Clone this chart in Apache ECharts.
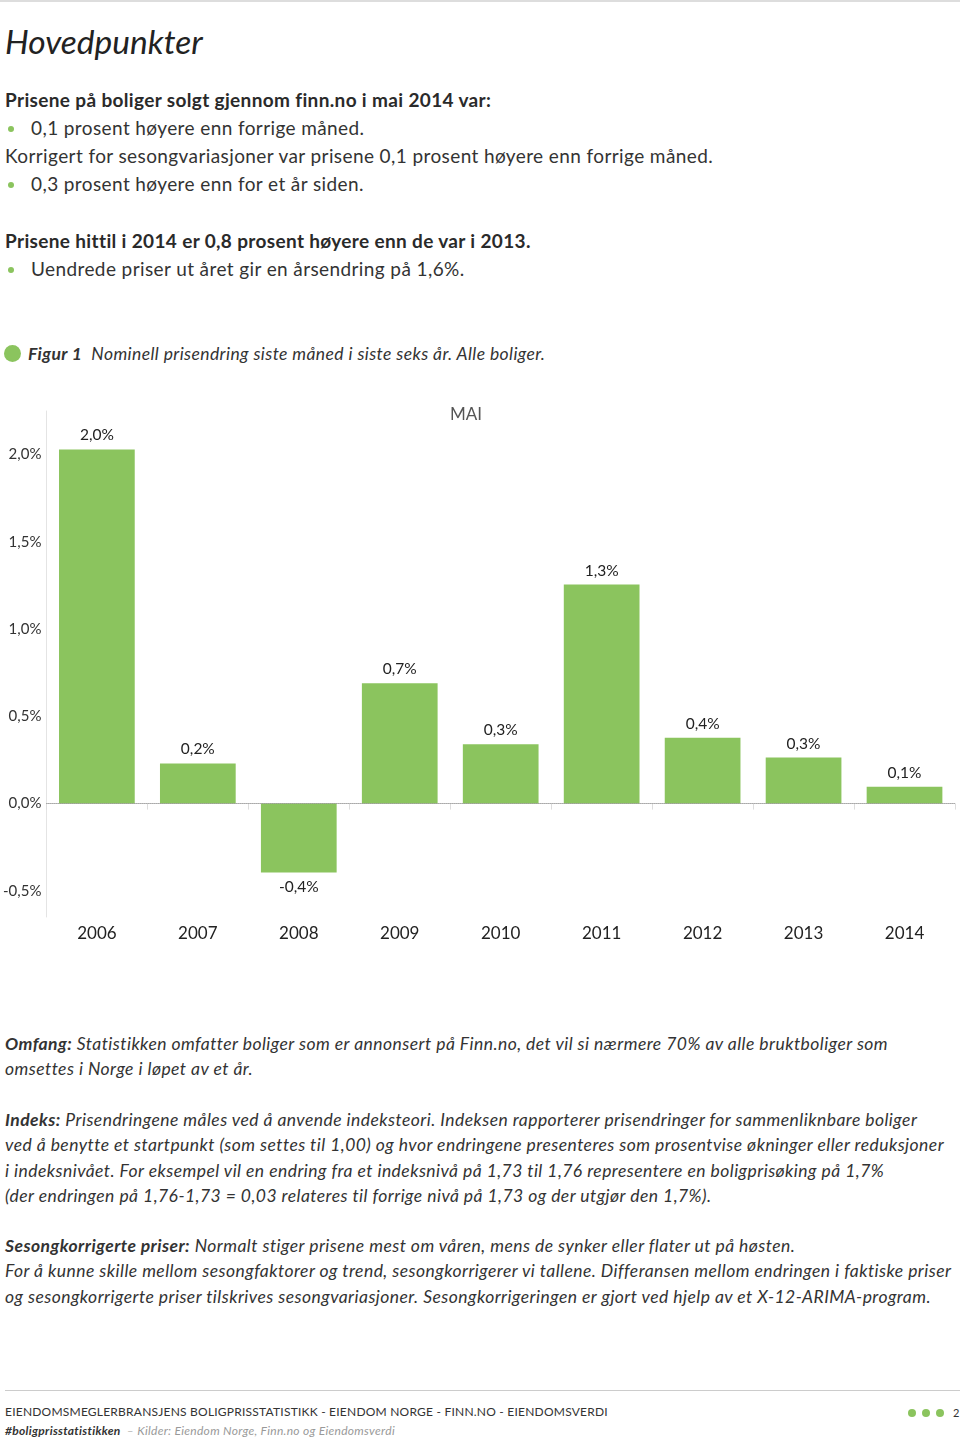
<!DOCTYPE html>
<html><head><meta charset="utf-8">
<script src="https://cdn.jsdelivr.net/npm/echarts@6/dist/echarts.min.js"></script>
<style>
html,body{margin:0;padding:0;background:#fff;}
body{width:960px;height:1442px;position:relative;overflow:hidden;font-family:Lato,"Open Sans",sans-serif;color:#333;}
.a{position:absolute;left:5px;white-space:nowrap;}
.t{font-size:19px;line-height:28px;letter-spacing:0.4px;}
.b{font-weight:bold;color:#2a2a2a;letter-spacing:0.35px;}
.bl{position:absolute;left:8px;width:6px;height:6px;border-radius:50%;background:#8bc45e;}
.p{font-style:italic;font-size:17.5px;line-height:25.3px;letter-spacing:0.45px;}
#chart{position:absolute;left:0;top:380px;width:960px;height:580px;}
</style></head>
<body>
<div style="position:absolute;left:0;top:0;width:960px;height:2px;background:#ddd"></div>
<div class="a" style="top:18px;font-size:33.5px;font-style:italic;color:#222;line-height:46px">Hovedpunkter</div>

<div class="a t b" style="top:86px">Prisene på boliger solgt gjennom finn.no i mai 2014 var:</div>
<div class="bl" style="top:126px"></div>
<div class="a t" style="left:31px;top:114px">0,1 prosent høyere enn forrige måned.</div>
<div class="a t" style="top:142px">Korrigert for sesongvariasjoner var prisene 0,1 prosent høyere enn forrige måned.</div>
<div class="bl" style="top:182px"></div>
<div class="a t" style="left:31px;top:170px">0,3 prosent høyere enn for et år siden.</div>

<div class="a t b" style="top:227px">Prisene hittil i 2014 er 0,8 prosent høyere enn de var i 2013.</div>
<div class="bl" style="top:267px"></div>
<div class="a t" style="left:31px;top:255px">Uendrede priser ut året gir en årsendring på 1,6%.</div>

<div style="position:absolute;left:4px;top:345px;width:17px;height:17px;border-radius:50%;background:#8bc45e"></div>
<div class="a" style="left:28px;top:341px;font-size:17.5px;line-height:26px;font-style:italic;letter-spacing:0.4px"><b>Figur 1</b>&nbsp; Nominell prisendring siste måned i siste seks år. Alle boliger.</div>

<div id="chart"></div>

<div class="a p" style="top:1031px"><b>Omfang:</b> Statistikken omfatter boliger som er annonsert på Finn.no, det vil si nærmere 70% av alle bruktboliger som<br>omsettes i Norge i løpet av et år.</div>
<div class="a p" style="top:1107px"><b>Indeks:</b> Prisendringene måles ved å anvende indeksteori. Indeksen rapporterer prisendringer for sammenliknbare boliger<br>ved å benytte et startpunkt (som settes til 1,00) og hvor endringene presenteres som prosentvise økninger eller reduksjoner<br>i indeksnivået. For eksempel vil en endring fra et indeksnivå på 1,73 til 1,76 representere en boligprisøking på 1,7%<br>(der endringen på 1,76-1,73 = 0,03 relateres til forrige nivå på 1,73 og der utgjør den 1,7%).</div>
<div class="a p" style="top:1233px"><b>Sesongkorrigerte priser:</b> Normalt stiger prisene mest om våren, mens de synker eller flater ut på høsten.<br>For å kunne skille mellom sesongfaktorer og trend, sesongkorrigerer vi tallene. Differansen mellom endringen i faktiske priser<br>og sesongkorrigerte priser tilskrives sesongvariasjoner. Sesongkorrigeringen er gjort ved hjelp av et X-12-ARIMA-program.</div>

<div style="position:absolute;left:5px;top:1390px;width:955px;height:1px;background:#ccc"></div>
<div class="a" style="top:1404px;font-size:12px;line-height:16px;color:#333;letter-spacing:0.22px">EIENDOMSMEGLERBRANSJENS BOLIGPRISSTATISTIKK - EIENDOM NORGE - FINN.NO - EIENDOMSVERDI</div>
<div class="a" style="top:1423px;font-size:12px;line-height:16px;font-style:italic;letter-spacing:0.3px"><b style="color:#333">#boligprisstatistikken</b> <span style="color:#999">&nbsp;– Kilder: Eiendom Norge, Finn.no og Eiendomsverdi</span></div>
<div style="position:absolute;left:908px;top:1409px;width:8px;height:8px;border-radius:50%;background:#8bc45e"></div>
<div style="position:absolute;left:922px;top:1409px;width:8px;height:8px;border-radius:50%;background:#8bc45e"></div>
<div style="position:absolute;left:936px;top:1409px;width:8px;height:8px;border-radius:50%;background:#8bc45e"></div>
<div class="a" style="left:953px;top:1405px;font-size:11px;line-height:16px">2</div>

<script>
const years = ['2006','2007','2008','2009','2010','2011','2012','2013','2014'];
const changes = [2.03, 0.23, -0.395, 0.69, 0.34, 1.255, 0.378, 0.264, 0.097];
const yTicks = [-0.5, 0, 0.5, 1.0, 1.5, 2.0];
const chartTitle = 'MAI';

const fmt = v => v.toFixed(1).replace('.', ',') + '%';
const chart = echarts.init(document.getElementById('chart'));
chart.setOption({
  animation: false,
  textStyle: {fontFamily: 'Lato'},
  title: {text: chartTitle, left: 450, top: 26, padding: 0,
    textStyle: {fontSize: 17, fontWeight: 'normal', color: '#555', fontFamily: 'Lato'}},
  grid: {left: 46, right: 5, top: 31, bottom: 43},
  xAxis: {type: 'category', data: years,
    axisLine: {lineStyle: {color: '#ddd'}},
    axisTick: {show: true, alignWithLabel: false, length: 6, lineStyle: {color: '#ddd'}},
    axisLabel: {fontSize: 17, color: '#222', margin: 8}},
  yAxis: {type: 'value', min: -0.65, max: 2.25,
    splitLine: {show: false},
    axisLine: {show: true, lineStyle: {color: '#e4e4e4'}},
    axisTick: {show: false},
    axisLabel: {customValues: yTicks, fontSize: 15, color: '#333', margin: 5, formatter: fmt}},
  series: [{type: 'bar', barCategoryGap: '25%',
    itemStyle: {color: '#8bc45e'},
    data: changes.map(v => ({value: v, label: {position: v < 0 ? 'bottom' : 'top'}})),
    label: {show: true, distance: 6, fontSize: 15.5, color: '#222', formatter: p => fmt(p.value)},
    markLine: {silent: true, symbol: 'none', label: {show: false},
      lineStyle: {type: 'dotted', color: '#888', width: 1},
      data: [{yAxis: 0}]}
  }]
});
</script>
</body></html>
